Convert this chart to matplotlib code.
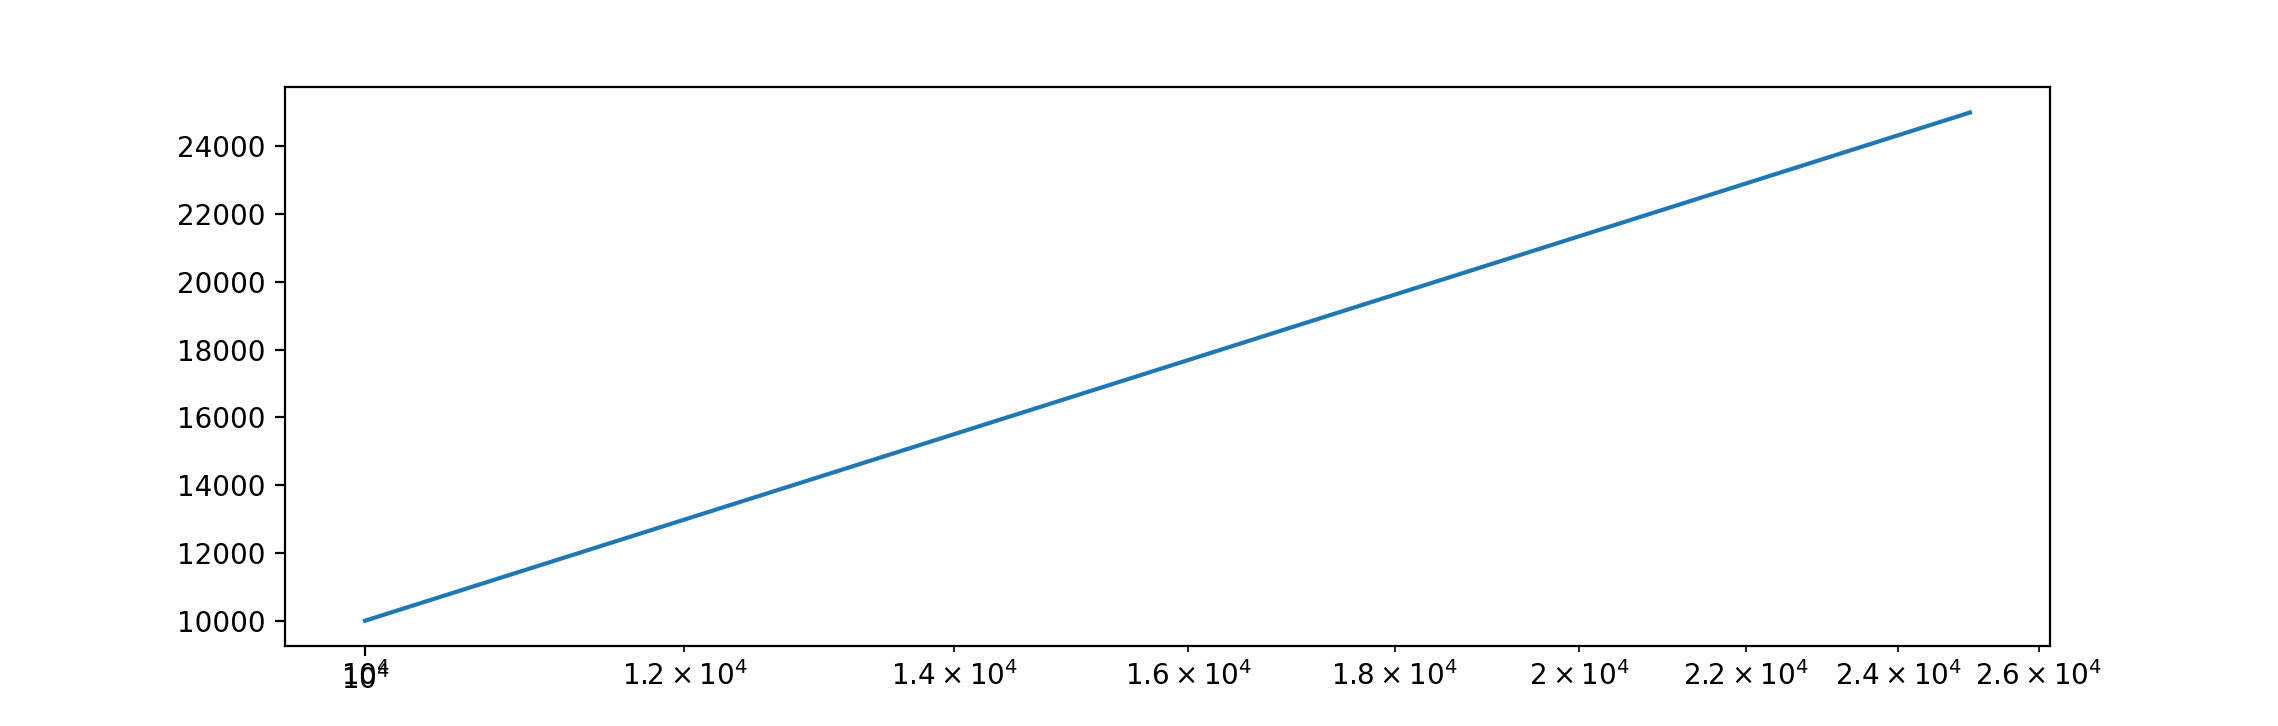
import matplotlib
matplotlib.use("Agg")
import matplotlib.pyplot as plt

x_values = [10000, 25000]
y_values = [10000, 25000]

fig, ax = plt.subplots(figsize=(11.39, 3.63), dpi=200)
ax.plot(x_values, y_values)
ax.set_xscale('log')
ax.xaxis.remove_overlapping_locs = False
fig.savefig("out.png", dpi=200)
